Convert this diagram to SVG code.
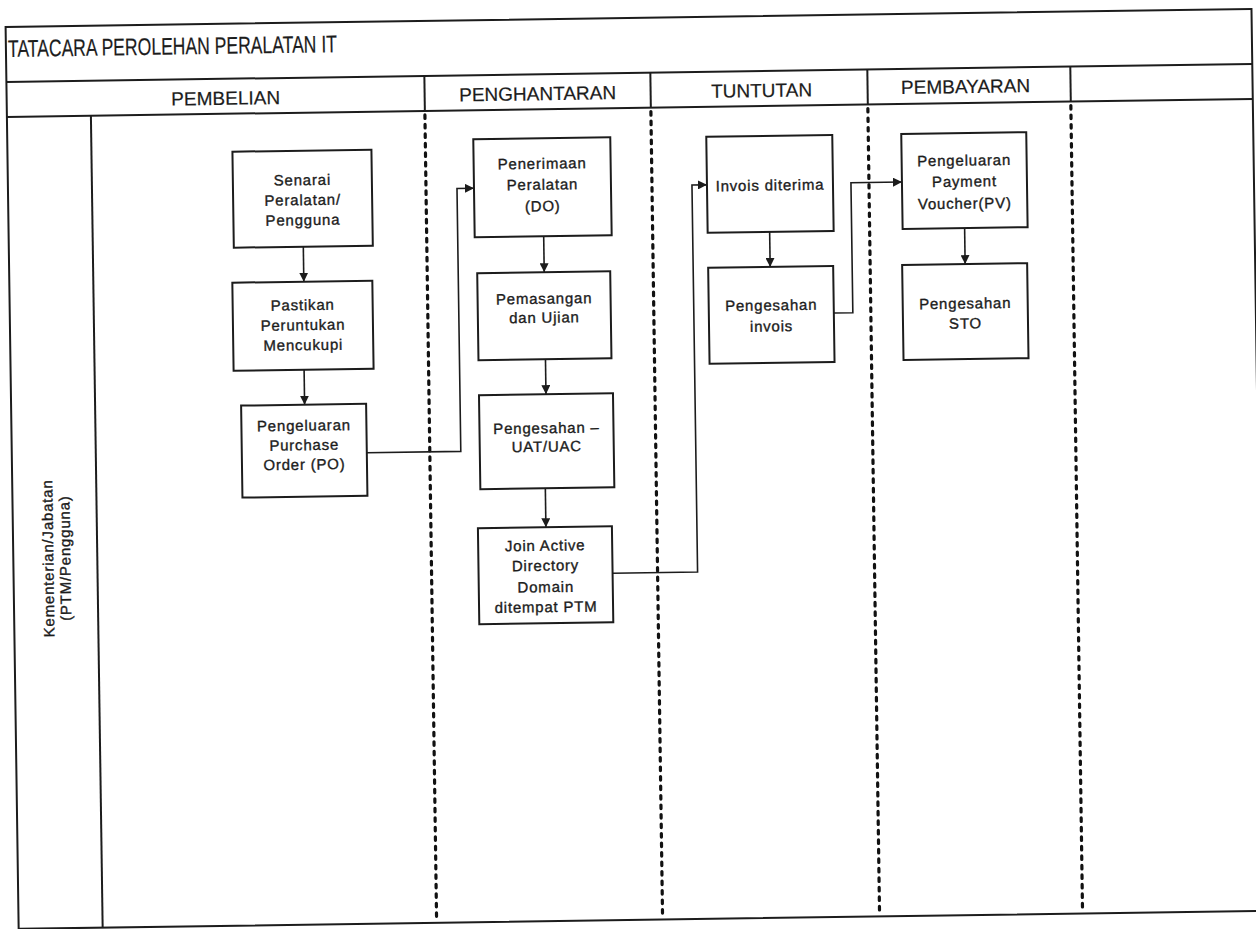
<svg xmlns="http://www.w3.org/2000/svg" width="1256" height="929" viewBox="0 0 1256 929">
<style>
.frame{fill:none;stroke:#1c1c1c;stroke-width:2}
.box{fill:#fff;stroke:#1c1c1c;stroke-width:2}
.t{font-family:"Liberation Sans",Arial,sans-serif;font-size:15px;fill:#1c1c1c;stroke:#1c1c1c;stroke-width:0.35;text-anchor:middle;letter-spacing:0.8px}
.h{font-family:"Liberation Sans",Arial,sans-serif;font-size:19px;fill:#1c1c1c;stroke:#1c1c1c;stroke-width:0.2;text-anchor:middle}
.title{font-family:"Liberation Sans",Arial,sans-serif;font-size:24px;fill:#1c1c1c;stroke:#1c1c1c;stroke-width:0.2}
.dot{stroke:#111;stroke-width:3.2;stroke-dasharray:3.5 6;stroke-linecap:round;fill:none}
.conn{fill:none;stroke:#1c1c1c;stroke-width:1.6}
</style>
<defs>
<marker id="ah" viewBox="0 0 10 10" refX="10" refY="5" markerWidth="9" markerHeight="9" markerUnits="userSpaceOnUse" orient="auto"><path d="M0,0 L10,5 L0,10 z" fill="#1c1c1c"/></marker>
</defs>
<rect width="1256" height="929" fill="#fff"/>
<g transform="rotate(-0.83 628 464)">
<g id="frame">
<rect class="frame" x="12" y="18" width="1246" height="902"/>
<line class="frame" x1="12" y1="73" x2="1258" y2="73"/>
<line class="frame" x1="12" y1="108" x2="1258" y2="108"/>
<line class="frame" x1="96" y1="108" x2="96" y2="920"/>
<line class="frame" x1="430" y1="73" x2="430" y2="108"/>
<line class="frame" x1="656" y1="73" x2="656" y2="108"/>
<line class="frame" x1="873" y1="73" x2="873" y2="108"/>
<line class="frame" x1="1076" y1="73" x2="1076" y2="108"/>
<line class="dot" x1="430" y1="112" x2="430" y2="918"/>
<line class="dot" x1="656" y1="112" x2="656" y2="918"/>
<line class="dot" x1="873" y1="112" x2="873" y2="918"/>
<line class="dot" x1="1076" y1="112" x2="1076" y2="918"/>
<text class="title" x="14" y="48" textLength="329" lengthAdjust="spacingAndGlyphs">TATACARA PEROLEHAN PERALATAN IT</text>
<text class="h" x="231" y="99">PEMBELIAN</text>
<text class="h" x="543" y="99">PENGHANTARAN</text>
<text class="h" x="767" y="99">TUNTUTAN</text>
<text class="h" x="971" y="98">PEMBAYARAN</text>
<text class="t" transform="translate(52 550) rotate(-90)" x="0" y="0">Kementerian/Jabatan</text>
<text class="t" transform="translate(69 550) rotate(-90)" x="0" y="0">(PTM/Pengguna)</text>
</g>
<g id="connectors">
<path class="conn" d="M306.5,242 V277" marker-end="url(#ah)"/>
<path class="conn" d="M305.5,365 V400" marker-end="url(#ah)"/>
<path class="conn" d="M367,449 H461 V186 H478" marker-end="url(#ah)"/>
<path class="conn" d="M547,235 V271" marker-end="url(#ah)"/>
<path class="conn" d="M547,358 V393" marker-end="url(#ah)"/>
<path class="conn" d="M545,487 V526" marker-end="url(#ah)"/>
<path class="conn" d="M611,573 H696 V186 H711" marker-end="url(#ah)"/>
<path class="conn" d="M773,234 V269" marker-end="url(#ah)"/>
<path class="conn" d="M836,316 H855 V186 H906" marker-end="url(#ah)"/>
<path class="conn" d="M968,233 V269" marker-end="url(#ah)"/>
</g>
<g id="n1"><rect class="box" x="237" y="146" width="139" height="96"/>
<text class="t" x="306.5" y="180.5">Senarai</text><text class="t" x="306.5" y="200.5">Peralatan/</text><text class="t" x="306.5" y="220.5">Pengguna</text></g>
<g id="n2"><rect class="box" x="235" y="277" width="140" height="88"/>
<text class="t" x="305" y="305.5">Pastikan</text><text class="t" x="305" y="325.5">Peruntukan</text><text class="t" x="305" y="345.5">Mencukupi</text></g>
<g id="n3"><rect class="box" x="242" y="400" width="125" height="92"/>
<text class="t" x="304.5" y="426">Pengeluaran</text><text class="t" x="304.5" y="445.5">Purchase</text><text class="t" x="304.5" y="465">Order (PO)</text></g>
<g id="n4"><rect class="box" x="478" y="137" width="137" height="98"/>
<text class="t" x="546.5" y="167.5">Penerimaan</text><text class="t" x="546.5" y="188.5">Peralatan</text><text class="t" x="546.5" y="210">(DO)</text></g>
<g id="n5"><rect class="box" x="480" y="271" width="133" height="87"/>
<text class="t" x="546.5" y="302.5">Pemasangan</text><text class="t" x="546.5" y="321.5">dan Ujian</text></g>
<g id="n6"><rect class="box" x="480" y="393" width="134" height="94"/>
<text class="t" x="547" y="432">Pengesahan –</text><text class="t" x="547" y="450.5">UAT/UAC</text></g>
<g id="n7"><rect class="box" x="477" y="526" width="134" height="96"/>
<text class="t" x="544" y="549.5">Join Active</text><text class="t" x="544" y="569.5">Directory</text><text class="t" x="544" y="591">Domain</text><text class="t" x="544" y="611">ditempat PTM</text></g>
<g id="n8"><rect class="box" x="711" y="138" width="126" height="96"/>
<text class="t" x="774" y="192.5">Invois diterima</text></g>
<g id="n9"><rect class="box" x="711" y="269" width="125" height="96"/>
<text class="t" x="773.5" y="312.5">Pengesahan</text><text class="t" x="773.5" y="333.5">invois</text></g>
<g id="n10"><rect class="box" x="906" y="138" width="125" height="95"/>
<text class="t" x="968.5" y="170.5">Pengeluaran</text><text class="t" x="968.5" y="191.5">Payment</text><text class="t" x="968.5" y="213.5">Voucher(PV)</text></g>
<g id="n11"><rect class="box" x="905" y="269" width="125" height="95"/>
<text class="t" x="967.5" y="313.5">Pengesahan</text><text class="t" x="967.5" y="333.5">STO</text></g>
</g>
</svg>
